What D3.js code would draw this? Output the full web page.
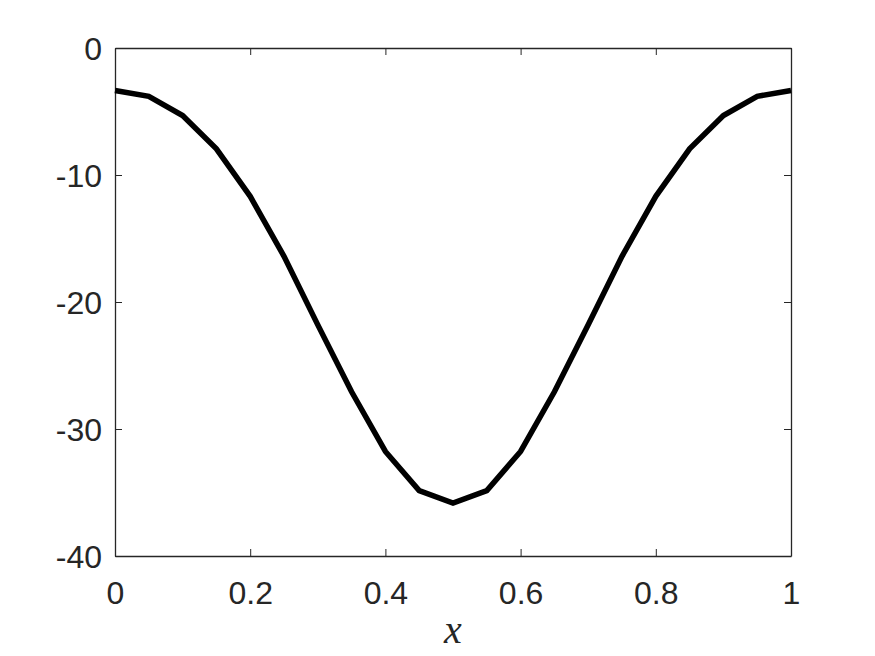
<!DOCTYPE html>
<html>
<head>
<meta charset="utf-8">
<title>curve</title>
<script src="https://d3js.org/d3.v7.min.js"></script>
<style>
  body { margin: 0; background: #fff; }
</style>
</head>
<body>
<script>
// values
var xs = [0, 0.05, 0.1, 0.15, 0.2, 0.25, 0.3, 0.35, 0.4, 0.45, 0.5,
          0.55, 0.6, 0.65, 0.7, 0.75, 0.8, 0.85, 0.9, 0.95, 1];
var ys = [-3.35, -3.8, -5.32, -7.94, -11.68, -16.4, -21.8, -27.07, -31.77, -34.85, -35.84,
          -34.85, -31.77, -27.07, -21.8, -16.4, -11.68, -7.94, -5.32, -3.8, -3.35];
var xTicks = [0, 0.2, 0.4, 0.6, 0.8, 1];
var yTicks = [0, -10, -20, -30, -40];

const w = 875, h = 656;
const mLeft = 115, mRight = 791, mTop = 48, mBottom = 556;
const ink = "#262626";

const xScale = d3.scaleLinear().domain([0, 1]).range([mLeft, mRight]);
const yScale = d3.scaleLinear().domain([-40, 0]).range([mBottom, mTop]);

const svg = d3.select("body").append("svg")
  .attr("width", w)
  .attr("height", h);

const tickLen = 7;
const fmt = (d) => String(d);   // plain hyphen minus, like the original

// bottom / top axes
const xAxis = d3.axisBottom(xScale).tickValues(xTicks).tickSizeInner(-tickLen).tickSizeOuter(0)
  .tickPadding(25).tickFormat(fmt);
const gx = svg.append("g").attr("transform", "translate(0," + mBottom + ")").call(xAxis);
svg.append("g").attr("transform", "translate(0," + mTop + ")")
  .call(d3.axisTop(xScale).tickValues(xTicks).tickSizeInner(-tickLen).tickSizeOuter(0).tickFormat(""));

// left / right axes
const yAxis = d3.axisLeft(yScale).tickValues(yTicks).tickSizeInner(-tickLen).tickSizeOuter(0)
  .tickPadding(13).tickFormat(fmt);
const gy = svg.append("g").attr("transform", "translate(" + mLeft + ",0)").call(yAxis);
svg.append("g").attr("transform", "translate(" + mRight + ",0)")
  .call(d3.axisRight(yScale).tickValues(yTicks).tickSizeInner(-tickLen).tickSizeOuter(0).tickFormat(""));

svg.selectAll(".domain").attr("stroke", ink).attr("stroke-width", 1.3);
svg.selectAll(".tick line").attr("stroke", ink).attr("stroke-width", 1);
svg.selectAll(".tick text")
  .style("font-family", "'Liberation Sans', Arial, sans-serif")
  .style("font-size", "32px")
  .attr("fill", ink);
gy.selectAll(".tick text").attr("dy", "0.36em");

const line = d3.line()
  .x((d, i) => xScale(xs[i]))
  .y((d) => yScale(d));

svg.append("path")
  .datum(ys)
  .attr("d", line)
  .attr("fill", "none")
  .attr("stroke", "#000")
  .attr("stroke-width", 5.5)
  .attr("stroke-linejoin", "miter");

svg.append("text")
  .attr("x", (mLeft + mRight) / 2)
  .attr("y", 643)
  .attr("text-anchor", "middle")
  .style("font-family", "'Liberation Serif', 'DejaVu Serif', serif")
  .style("font-style", "italic")
  .style("font-size", "40px")
  .attr("fill", ink)
  .text("x");
</script>
</body>
</html>
